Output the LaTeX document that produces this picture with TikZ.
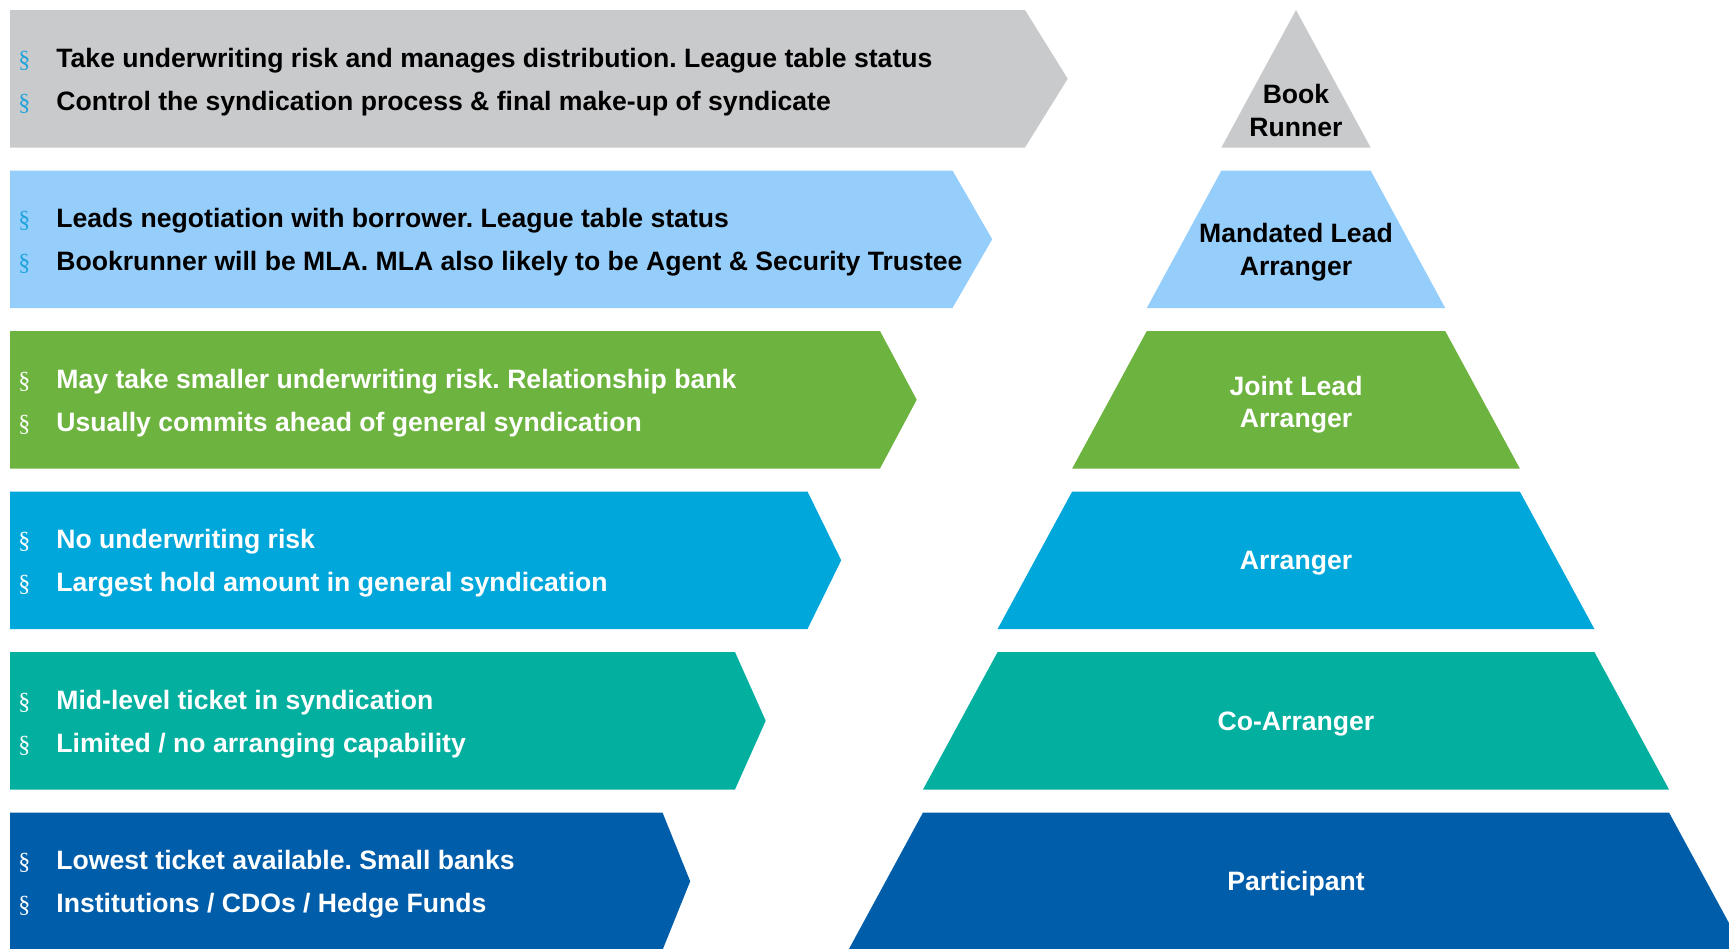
\documentclass[tikz,border=0pt]{standalone}
\usepackage{fontspec}
\setmainfont{Liberation Sans}
\newfontfamily\bulletfont{Liberation Serif}

\definecolor{cgray}{HTML}{C9CACC}
\definecolor{clight}{HTML}{96CEFB}
\definecolor{cgreen}{HTML}{6DB33F}
\definecolor{cblue}{HTML}{00A7DB}
\definecolor{cteal}{HTML}{03AF9F}
\definecolor{cnavy}{HTML}{005DAA}
\definecolor{cbullet}{HTML}{1FA3DD}

\frenchspacing
\begin{document}
\begin{tikzpicture}[x=0.5pt,y=-0.5pt,
  txt/.style={anchor=base west, inner sep=0pt, font=\bfseries\fontsize{13.3}{16}\selectfont},
  bul/.style={anchor=base west, inner sep=0pt, font=\bulletfont\fontsize{12}{14}\selectfont},
  plab/.style={anchor=base, inner sep=0pt, font=\bfseries\fontsize{13.3}{16}\selectfont}]
\useasboundingbox (0,0) rectangle (1729,948);
\clip (0,0) rectangle (1729,948);

% banners on the left and pyramid tiers on the right
\foreach \k/\col in {0/cgray,1/clight,2/cgreen,3/cblue,4/cteal,5/cnavy} {
  \pgfmathsetmacro\yt{10+160.5*\k}
  \pgfmathsetmacro\yb{\yt+137.5}
  \pgfmathsetmacro\ym{\yt+68.75}
  \pgfmathsetmacro\xr{1025-72.5*\k}
  \pgfmathsetmacro\xt{\xr+42.7-3*\k}
  \fill[\col] (10,\yt) -- (\xr,\yt) -- (\xt,\ym) -- (\xr,\yb) -- (10,\yb) -- cycle;
  \pgfmathsetmacro\wt{74.6*\k}
  \pgfmathsetmacro\wb{74.6*(\k+1)}
  \fill[\col] ({1296-\wt},\yt) -- ({1296+\wt},\yt) -- ({1296+\wb},\yb) -- ({1296-\wb},\yb) -- cycle;
}

% bullet points
\foreach \y/\c [count=\i] in {67.25/cbullet,110.25/cbullet,227.75/cbullet,270.75/cbullet,
  388.25/white,431.25/white,548.75/white,591.75/white,709.25/white,752.25/white,
  869.75/white,912.75/white}
  \node[bul, text=\c] (b\i) at (18,\y) {§};

\node[txt] (t1a) at (56,67.25) {Take underwriting risk and manages distribution. League table status};
\node[txt] (t1b) at (56,110.25) {Control the syndication process \& final make-up of syndicate};
\node[txt] (t2a) at (56,227.75) {Leads negotiation with borrower. League table status};
\node[txt] (t2b) at (56,270.75) {Bookrunner will be MLA. MLA also likely to be Agent \& Security Trustee};
\node[txt, text=white] (t3a) at (56,388.25) {May take smaller underwriting risk. Relationship bank};
\node[txt, text=white] (t3b) at (56,431.25) {Usually commits ahead of general syndication};
\node[txt, text=white] (t4a) at (56,548.75) {No underwriting risk};
\node[txt, text=white] (t4b) at (56,591.75) {Largest hold amount in general syndication};
\node[txt, text=white] (t5a) at (56,709.25) {Mid-level ticket in syndication};
\node[txt, text=white] (t5b) at (56,752.25) {Limited / no arranging capability};
\node[txt, text=white] (t6a) at (56,869.75) {Lowest ticket available. Small banks};
\node[txt, text=white] (t6b) at (56,912.75) {Institutions / CDOs / Hedge Funds};

% tier labels
\node[plab] (p1a) at (1296,103) {Book};
\node[plab] (p1b) at (1296,136) {Runner};
\node[plab] (p2a) at (1296,242) {Mandated Lead};
\node[plab] (p2b) at (1296,275) {Arranger};
\node[plab, text=white] (p3a) at (1296,395) {Joint Lead};
\node[plab, text=white] (p3b) at (1296,427.5) {Arranger};
\node[plab, text=white] (p4) at (1296,569.5) {Arranger};
\node[plab, text=white] (p5) at (1296,730) {Co-Arranger};
\node[plab, text=white] (p6) at (1296,890.5) {Participant};
\end{tikzpicture}
\end{document}
